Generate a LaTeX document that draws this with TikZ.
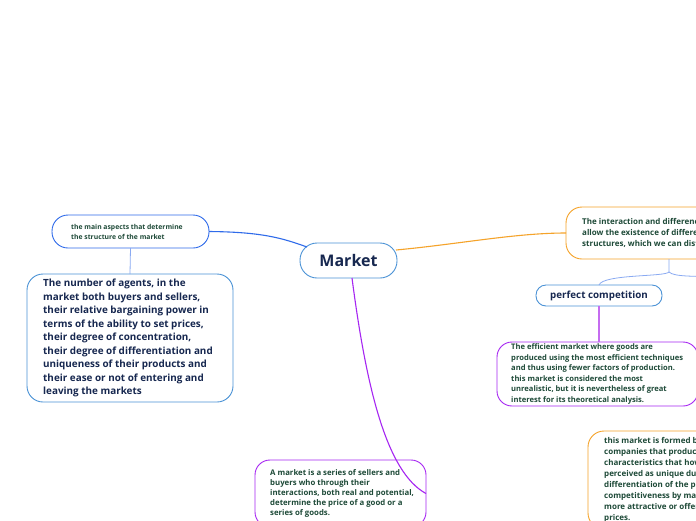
\documentclass[tikz,border=0pt]{standalone}
\usepackage{fontspec}
\setmainfont{Open Sans}
\usetikzlibrary{calc}
\definecolor{navy}{HTML}{172850}
\definecolor{dgreen}{HTML}{1E4A38}
\definecolor{cblue}{HTML}{2F6BEA}
\definecolor{lblue}{HTML}{4A92D6}
\definecolor{pblue}{HTML}{8AAAF2}
\definecolor{corange}{HTML}{F5A32A}
\definecolor{cpurple}{HTML}{A626F2}
\definecolor{lpurple}{HTML}{C56CF0}
\tikzset{
  box/.style={draw, fill=white, line width=0.9pt, rounded corners=#1, inner sep=0pt, outer sep=0pt},
  box/.default=15pt,
  txt/.style={anchor=west, align=left, inner sep=0pt, text=dgreen},
  conn/.style={line width=1.1pt},
}
\begin{document}
\begin{tikzpicture}[x=1pt,y=-1pt]
\useasboundingbox (0,0) rectangle (696,520);
\clip (0,0) rectangle (696,520);
\fill[white] (0,0) rectangle (696,520);

% boxes
\node[box=16pt, draw=cblue, minimum width=157pt, minimum height=33pt] (tl) at (130.5,231.5) {};
\node[box=16pt, draw=lblue, minimum width=206pt, minimum height=128pt] (big) at (130,338) {};
\node[box=17pt, draw=lblue, minimum width=97pt, minimum height=35pt,
      text=navy, font=\fontsize{16}{18}\selectfont\bfseries] (mk) at (348.5,260.5) {Market};
\node[box=16pt, draw=corange, minimum width=206pt, minimum height=52pt] (or) at (669,233) {};
\node[box=10pt, draw=lblue, minimum width=126pt, minimum height=21pt,
      text=navy, font=\fontsize{9.8}{12}\selectfont\bfseries] (pc) at (599,295.5) {perfect competition};
\node[box=15pt, draw=cpurple, minimum width=201pt, minimum height=64pt] (pe) at (597.5,374) {};
\node[box=16pt, draw=corange, minimum width=202pt, minimum height=98pt] (mc) at (689,480) {};
\node[box=15pt, draw=cpurple, minimum width=171pt, minimum height=67pt] (bp) at (340.5,493.5) {};

% texts
\node[txt, font=\fontsize{6.8}{10}\selectfont\bfseries] (tlt) at ([xshift=19pt]tl.west)
  {the main aspects that determine\\the structure of the market};
\node[txt, text=navy, font=\fontsize{9.9}{13.5}\selectfont\bfseries] (bigt) at ([xshift=16pt]big.west)
  {The number of agents, in the\\market both buyers and sellers,\\their relative bargaining power in\\terms of the ability to set prices,\\their degree of concentration,\\their degree of differentiation and\\uniqueness of their products and\\their ease or not of entering and\\leaving the markets};
\node[txt, font=\fontsize{8}{11}\selectfont\bfseries] (ort) at ([xshift=16pt]or.west)
  {The interaction and differences\\allow the existence of different\\structures, which we can distinguish};
\node[txt, font=\fontsize{7.6}{10.6}\selectfont\bfseries] (pet) at ([xshift=14pt]pe.west)
  {The efficient market where goods are\\produced using the most efficient techniques\\and thus using fewer factors of production.\\this market is considered the most\\unrealistic, but it is nevertheless of great\\interest for its theoretical analysis.};
\node[txt, font=\fontsize{8}{10.9}\selectfont\bfseries] (mct) at ([xshift=16pt]mc.west)
  {this market is formed by\\companies that produce\\characteristics that how\\perceived as unique due\\differentiation of the p\\competitiveness by ma\\more attractive or offer\\prices.};
\node[txt, font=\fontsize{7.8}{9.9}\selectfont\bfseries] (bpt) at ([xshift=15pt]bp.west)
  {A market is a series of sellers and\\buyers who through their\\interactions, both real and potential,\\determine the price of a good or a\\series of goods.};

% connectors
\draw[conn, cblue] (tl.east) .. controls (262,232) and (282,238) .. ([shift={(7,4)}]mk.north west);
\draw[conn, corange] ([shift={(-1,7)}]mk.north east) .. controls (460,244) and (515,233) .. (or.west);
\draw[conn, cpurple] ([xshift=3.5pt]mk.south) .. controls (366,385) and (386,472) .. (bp.east);
\draw[conn, pblue, line width=0.8pt] (tl.south) -- (big.north);
\coordinate (br) at ($(or.south)+(0,13)$);
\coordinate (rb) at (720,277);
\draw[pblue, line width=0.8pt] (or.south) -- (br) .. controls (665,277) and (603,274) .. (pc.north);
\draw[pblue, line width=0.8pt] (br) .. controls (674,277) and (695,276) .. (rb);
\draw[conn, lpurple, line width=1.2pt] (pc.south) -- (pe.north -| pc.south);
\end{tikzpicture}
\end{document}
